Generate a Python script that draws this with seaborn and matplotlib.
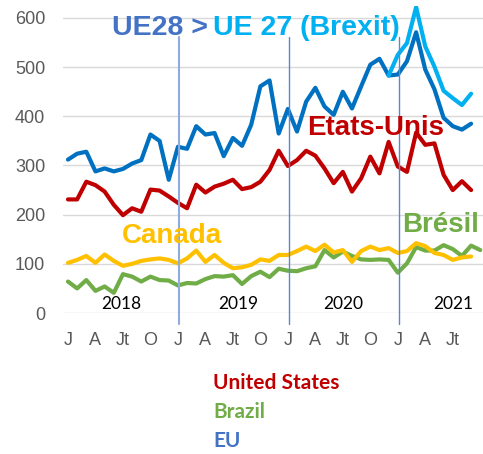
import numpy as np
import pandas as pd
import seaborn as sns
import matplotlib
import matplotlib.pyplot as plt

matplotlib.use('Agg')

# Monthly values, Jan 2018 -> Oct 2021 (NaN where a series has no point)
months = pd.date_range('2018-01-01', '2021-10-01', freq='MS')
eu28 = [312, 324, 328, 288, 294, 288, 293, 304, 311, 363, 350, 271,
        338, 334, 380, 363, 366, 319, 356, 340, 383, 461, 473, 365,
        415, 369, 430, 458, 420, 403, 450, 416, 461, 505, 517, 483,
        485, 512, 571, 495, 455, 397, 380, 373, 385, np.nan]
eu27 = [np.nan] * 35 + [483, 525, 549, 622, 542, 501, 452, 437, 423, 446, np.nan]
united_states = [231, 231, 267, 260, 247, 220, 199, 213, 206, 251, 249, 237,
                 224, 213, 261, 245, 257, 263, 271, 252, 256, 267, 291, 330,
                 299, 311, 330, 320, 294, 264, 287, 247, 274, 318, 284, 348,
                 298, 287, 367, 342, 345, 281, 250, 268, 250, np.nan]
canada = [102, 108, 116, 102, 119, 106, 96, 100, 106, 109, 111, 108,
          101, 111, 127, 104, 118, 102, 91, 93, 98, 109, 106, 118,
          118, 126, 135, 126, 139, 123, 128, 104, 126, 135, 128, 132,
          122, 126, 142, 136, 122, 118, 108, 113, 115, np.nan]
brazil = [64, 50, 67, 45, 54, 41, 79, 74, 64, 74, 67, 66,
          56, 61, 60, 69, 75, 74, 77, 59, 75, 84, 73, 90,
          86, 85, 91, 95, 128, 113, 125, 116, 109, 108, 109, 108,
          82, 101, 134, 127, 127, 138, 130, 116, 137, 128]

tick_labels = ['J', 'A', 'Jt', 'O']
years = ['2018', '2019', '2020', '2021']
year_pos = [5.8, 18.6, 30.0, 42.0]

df = pd.DataFrame({'m': np.arange(len(months)), 'EU28': eu28, 'EU27': eu27,
                   'US': united_states, 'Canada': canada, 'Brazil': brazil})

colors = {'Brazil': '#70AD47', 'Canada': '#FFC000', 'US': '#C00000',
          'EU28': '#0070C0', 'EU27': '#00B0F0'}

sns.set_style('white')
plt.rcParams['font.family'] = ['Liberation Sans', 'DejaVu Sans']

fig = plt.figure(figsize=(4.83, 4.54), dpi=100)
ax = fig.add_axes([63.4 / 483, (454 - 313) / 454, 419.6 / 483, 307.3 / 454])

for c in range(0, 700, 100):
    ax.axhline(c, color='#D9D9D9', lw=1, zorder=0)

for name in ['Brazil', 'Canada', 'US', 'EU28', 'EU27']:
    sns.lineplot(data=df, x='m', y=name, ax=ax, color=colors[name], lw=3,
                 solid_joinstyle='round', solid_capstyle='round')

# year separators
ax.axvline(12.15, ymin=-0.036, ymax=0.898, color='#8FAADC', lw=1.5, clip_on=False)
ax.axvline(24.15, ymin=-0.036, ymax=0.898, color='#5B86D0', lw=1, clip_on=False)
ax.axvline(36.15, ymin=-0.036, ymax=0.898, color='#5B86D0', lw=1, clip_on=False)

ax.set_xlim(-0.5, 45.3)
ax.set_ylim(0, 625)
ax.set_yticks(range(0, 700, 100))
ax.set_xticks(range(0, 45, 3))
ax.set_xticklabels([tick_labels[i % 4] for i in range(15)])
ax.tick_params(axis='both', length=0, labelsize=13, labelcolor='#595959')
ax.tick_params(axis='x', pad=14)
ax.tick_params(axis='y', pad=13)
ax.set_xlabel('')
ax.set_ylabel('')
for s in ax.spines.values():
    s.set_visible(False)

for y, p in zip(years, year_pos):
    ax.text(p, 18, y, ha='center', va='center', fontsize=12.5, color='black',
            family='Lato')

# series labels inside the plot
def px(x, y):
    return x / 483, (454 - y) / 454

fig.text(*px(112, 35), 'UE28 > ', color='#4472C4', fontsize=20.5,
         fontweight='bold', va='baseline')
fig.text(*px(213, 35), 'UE 27 (Brexit)', color='#00B0F0', fontsize=20.5,
         fontweight='bold', va='baseline')
fig.text(*px(307, 135), 'Etats-Unis', color='#C00000', fontsize=20,
         fontweight='bold', va='baseline')
fig.text(*px(122, 243), 'Canada', color='#FFC000', fontsize=20,
         fontweight='bold', va='baseline')
fig.text(*px(402, 232), 'Brésil', color='#70AD47', fontsize=20,
         fontweight='bold', va='baseline')

# english legend below
for t, c, y in [('United States', '#C00000', 389), ('Brazil', '#70AD47', 418),
                ('EU', '#4472C4', 447)]:
    fig.text(*px(213, y), t, color=c, fontsize=15, fontweight='bold',
             va='baseline', family='Lato')

fig.savefig('out.png', dpi=100)
